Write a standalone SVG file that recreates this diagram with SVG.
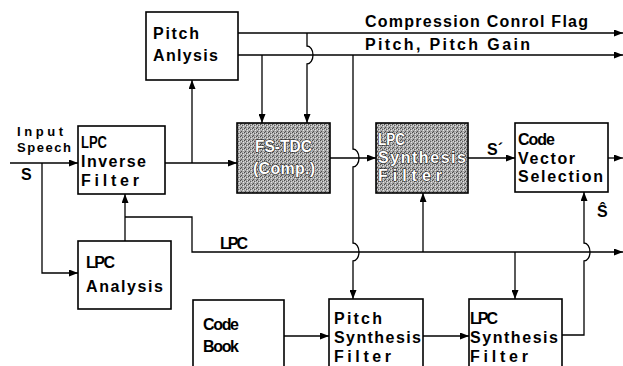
<svg xmlns="http://www.w3.org/2000/svg" width="623" height="366" viewBox="0 0 623 366">
<defs>
<style>
.box{fill:#fff;stroke:#000;stroke-width:1.6}
.gbox{fill:url(#dither);stroke:#000;stroke-width:1.6}
.t{font-family:"Liberation Sans",Arial,sans-serif;font-size:16px;font-weight:bold;fill:#000}
.s{font-size:13px}
.tg{font-family:"Liberation Sans",Arial,sans-serif;font-size:16px;font-weight:bold;fill:#fff;stroke:#111;stroke-width:1.1;paint-order:stroke}
.c path{fill:none;stroke:#000;stroke-width:1.3;marker-end:url(#arr)}
</style>
<pattern id="dither" width="4" height="4" patternUnits="userSpaceOnUse">
<rect width="4" height="4" fill="#a6a6a6"/>
<rect x="0" y="0" width="1" height="1" fill="#4a4a4a"/>
<rect x="2" y="1" width="1" height="1" fill="#5a5a5a"/>
<rect x="1" y="3" width="1" height="1" fill="#505050"/>
<rect x="3" y="2" width="1" height="1" fill="#e6e6e6"/>
<rect x="1" y="1" width="1" height="1" fill="#dcdcdc"/>
<rect x="3" y="0" width="1" height="1" fill="#d0d0d0"/>
</pattern>
<marker id="arr" viewBox="0 0 9 7" refX="9" refY="3.5" markerWidth="9" markerHeight="7" markerUnits="userSpaceOnUse" orient="auto">
<path d="M0,0 L9,3.5 L0,7 z" fill="#000"/>
</marker>
</defs>

<g id="pitch-analysis">
<rect class="box" x="146" y="12" width="92" height="68"/>
<text class="t" x="153" y="39" textLength="46" lengthAdjust="spacing">Pitch</text>
<text class="t" x="153" y="61" textLength="65" lengthAdjust="spacing">Anlysis</text>
</g>

<g id="lpc-inverse-filter">
<rect class="box" x="78" y="126" width="87" height="68"/>
<text class="t" x="81" y="148" textLength="26" lengthAdjust="spacingAndGlyphs">LPC</text>
<text class="t" x="81" y="167" textLength="65" lengthAdjust="spacing">Inverse</text>
<text class="t" x="81" y="186" textLength="58" lengthAdjust="spacing">Filter</text>
</g>

<g id="fs-tdc">
<rect class="gbox" x="237" y="123" width="93" height="70"/>
<text class="tg" x="255" y="152" textLength="57" lengthAdjust="spacingAndGlyphs">FS-TDC</text>
<text class="tg" x="253" y="174" textLength="62" lengthAdjust="spacing">(Comp.)</text>
</g>

<g id="lpc-synthesis-top">
<rect class="gbox" x="376" y="123" width="92" height="70"/>
<text class="tg" x="378" y="145" textLength="27" lengthAdjust="spacingAndGlyphs">LPC</text>
<text class="tg" x="378" y="163" textLength="88" lengthAdjust="spacing">Synthesis</text>
<text class="tg" x="378" y="181" textLength="64" lengthAdjust="spacing">Filter</text>
</g>

<g id="code-vector-selection">
<rect class="box" x="515" y="123" width="93" height="69"/>
<text class="t" x="518" y="145" textLength="37" lengthAdjust="spacing">Code</text>
<text class="t" x="518" y="164" textLength="57" lengthAdjust="spacing">Vector</text>
<text class="t" x="518" y="182" textLength="85" lengthAdjust="spacing">Selection</text>
</g>

<g id="lpc-analysis">
<rect class="box" x="78" y="241" width="93" height="68"/>
<text class="t" x="86" y="268" textLength="29" lengthAdjust="spacing">LPC</text>
<text class="t" x="86" y="292" textLength="77" lengthAdjust="spacing">Analysis</text>
</g>

<g id="code-book">
<rect class="box" x="193" y="300" width="91" height="80"/>
<text class="t" x="203" y="330" textLength="36" lengthAdjust="spacing">Code</text>
<text class="t" x="203" y="352" textLength="36" lengthAdjust="spacing">Book</text>
</g>

<g id="pitch-synthesis">
<rect class="box" x="329" y="299" width="94" height="80"/>
<text class="t" x="334" y="324" textLength="48" lengthAdjust="spacing">Pitch</text>
<text class="t" x="334" y="343" textLength="87" lengthAdjust="spacing">Synthesis</text>
<text class="t" x="334" y="362" textLength="57" lengthAdjust="spacing">Filter</text>
</g>

<g id="lpc-synthesis-bottom">
<rect class="box" x="469" y="299" width="93" height="80"/>
<text class="t" x="470" y="324" textLength="28" lengthAdjust="spacing">LPC</text>
<text class="t" x="470" y="343" textLength="88" lengthAdjust="spacing">Synthesis</text>
<text class="t" x="470" y="362" textLength="58" lengthAdjust="spacing">Filter</text>
</g>

<g id="connectors" class="c">
<path d="M10,163 H78"/>
<path d="M42,163 V273 H78"/>
<path d="M165,163 H237"/>
<path d="M192,163 V80"/>
<path d="M125,241 V194"/>
<path d="M125,217 H192 V252 H623"/>
<path d="M238,33 H623"/>
<path d="M238,55 H623"/>
<path d="M262,55 V123"/>
<path d="M307,33 V46 A6,9 0 0 1 307,64 V123"/>
<path d="M353,55 V149 A6,9 0 0 1 353,167 V243 A6,9 0 0 1 353,261 V299"/>
<path d="M330,158 H376"/>
<path d="M468,158 H515"/>
<path d="M608,158 H623"/>
<path d="M423,252 V193"/>
<path d="M515,252 V299"/>
<path d="M284,336 H329"/>
<path d="M423,336 H469"/>
<path d="M562,335 H584 V261 A6,9 0 0 0 584,243 V192"/>
</g>

<g id="labels">
<text class="t" x="365" y="27" textLength="223" lengthAdjust="spacing">Compression Conrol Flag</text>
<text class="t" x="365" y="50" textLength="165" lengthAdjust="spacing">Pitch, Pitch Gain</text>
<text class="t s" x="17" y="136" textLength="46" lengthAdjust="spacing">Input</text>
<text class="t s" x="17" y="152" textLength="54" lengthAdjust="spacing">Speech</text>
<text class="t" x="21" y="180">S</text>
<text class="t" x="487" y="155">S´</text>
<text class="t" x="597" y="217">Ŝ</text>
<text class="t" x="220" y="249" textLength="28" lengthAdjust="spacing">LPC</text>
</g>
</svg>
